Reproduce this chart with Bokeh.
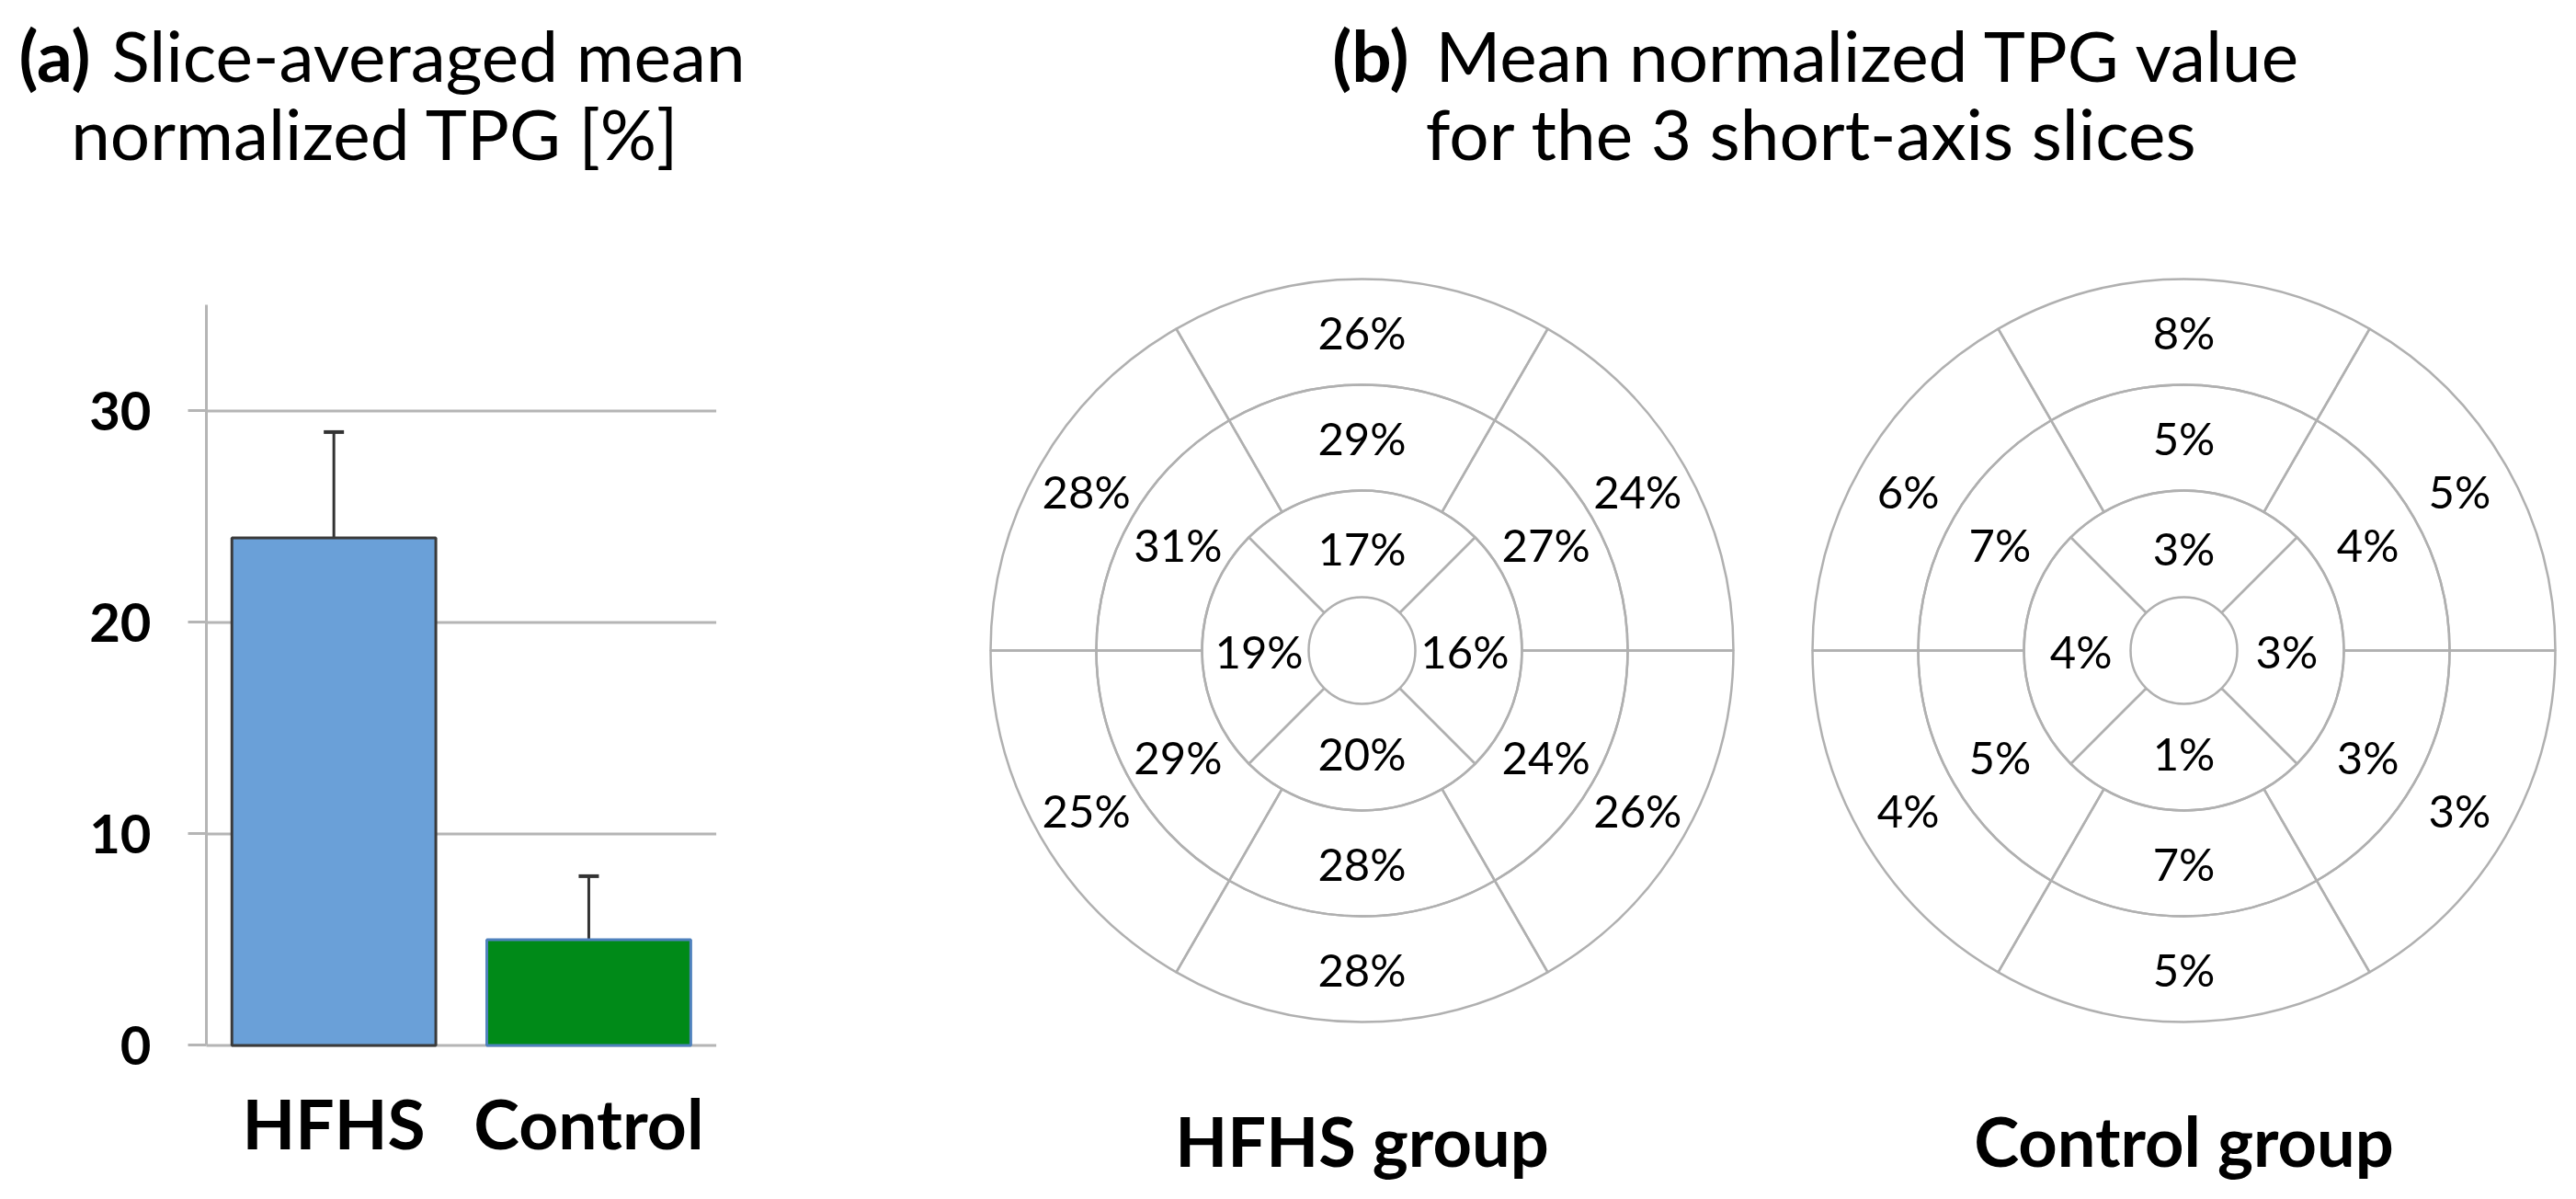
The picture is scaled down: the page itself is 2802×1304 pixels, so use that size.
import numpy as np
from bokeh.plotting import figure
from bokeh.models import ColumnDataSource, Range1d, Whisker, TeeHead, FixedTicker, LinearAxis
from bokeh.embed import file_html
from bokeh.resources import INLINE
from bokeh.core.properties import value

# ---------------- data ----------------
groups = ["HFHS", "Control"]
mean_tpg = [24, 5]
sd_tpg = [5, 3]
y_ticks = [0, 10, 20, 30]

# 6-segment rings order: top, upper-right, lower-right, bottom, lower-left, upper-left
hfhs_outer = [26, 24, 26, 28, 25, 28]
hfhs_middle = [29, 27, 24, 28, 29, 31]
# 4-segment ring order: top, right, bottom, left
hfhs_inner = [17, 16, 20, 19]

ctrl_outer = [8, 5, 3, 5, 4, 6]
ctrl_middle = [5, 4, 3, 7, 5, 7]
ctrl_inner = [3, 3, 1, 4]

group_names = ["HFHS group", "Control group"]

# ---------------- style ----------------
FONT = "Lato"
GRID = "#b5b5b5"
RING = "#b0b0b0"
bar_fill = ["#6aa0d8", "#008a18"]
bar_line = ["#3a3a3a", "#4f81bd"]

# ---------------- one figure, frame = whole canvas ----------------
# default ranges: bullseye units (outer radius = 1)
p = figure(width=2794, height=1296,
           x_range=Range1d(-3.6658, 3.2500), y_range=Range1d(-1.4579, 1.7500),
           x_axis_location=None, y_axis_location=None, min_border=0,
           output_backend="svg", toolbar_location=None)
p.outline_line_color = None
p.grid.visible = False

# extra ranges for the bar chart (panel a)
p.extra_x_ranges = {"bx": Range1d(-0.8078, 9.2679)}
p.extra_y_ranges = {"by": Range1d(-6.9391, 49.409)}

bar_pos = [i + 0.5 for i in range(len(groups))]
src = ColumnDataSource(dict(
    x=bar_pos, mean=mean_tpg,
    upper=[m + s for m, s in zip(mean_tpg, sd_tpg)],
    fill=bar_fill, line=bar_line))

# horizontal grid lines of the bar chart
p.segment(x0=[0] * len(y_ticks), x1=[len(groups)] * len(y_ticks), y0=y_ticks, y1=y_ticks,
          line_color=GRID, line_width=3, x_range_name="bx", y_range_name="by",
          level="underlay")

p.vbar(x="x", top="mean", width=0.8, source=src, fill_color="fill",
       line_color="line", line_width=3, x_range_name="bx", y_range_name="by")

wh = Whisker(base="x", upper="upper", lower="mean", source=src, dimension="height",
             line_color="#333333", line_width=3,
             upper_head=TeeHead(size=22, line_color="#333333", line_width=4),
             lower_head=None, x_range_name="bx", y_range_name="by")
p.add_layout(wh)

ya = LinearAxis(x_range_name="bx", y_range_name="by", fixed_location=0, bounds=(0, 35),
                ticker=FixedTicker(ticks=y_ticks))
ya.minor_tick_line_color = None
ya.major_tick_in = 0
ya.major_tick_out = 20
ya.major_tick_line_color = GRID
ya.major_tick_line_width = 3
ya.axis_line_color = GRID
ya.axis_line_width = 3
ya.major_label_text_font = FONT
ya.major_label_text_font_style = "bold"
ya.major_label_text_font_size = "58px"
ya.major_label_text_color = "black"
ya.major_label_standoff = 40
p.add_layout(ya, "left")

xa = LinearAxis(x_range_name="bx", y_range_name="by", fixed_location=0,
                ticker=FixedTicker(ticks=bar_pos),
                major_label_overrides={x: g for x, g in zip(bar_pos, groups)})
xa.axis_line_color = None
xa.major_tick_line_color = None
xa.minor_tick_line_color = None
xa.major_tick_in = 0
xa.major_tick_out = 0
xa.major_label_text_font = FONT
xa.major_label_text_font_style = "bold"
xa.major_label_text_font_size = "75px"
xa.major_label_text_color = "black"
xa.major_label_standoff = 39
p.add_layout(xa, "below")

# ---------------- bullseyes (panel b) ----------------
R = [0.1436, 0.4307, 0.7153, 1.0]
centers = [0.0, 2.2129]

six_start = np.deg2rad(np.arange(0, 360, 60))
four_start = np.deg2rad(np.arange(45, 405, 90))
six_mid = np.deg2rad([90, 30, -30, -90, -150, 150])
four_mid = np.deg2rad([90, 0, -90, 180])

datasets = [(hfhs_inner, hfhs_middle, hfhs_outer), (ctrl_inner, ctrl_middle, ctrl_outer)]
for cx, (inner, middle, outer) in zip(centers, datasets):
    p.annular_wedge(x=[cx] * 4, y=[0] * 4, inner_radius=R[0], outer_radius=R[1],
                    start_angle=four_start, end_angle=four_start + np.pi / 2,
                    fill_color=None, line_color=RING, line_width=2.5)
    for r0, r1 in [(R[1], R[2]), (R[2], R[3])]:
        p.annular_wedge(x=[cx] * 6, y=[0] * 6, inner_radius=r0, outer_radius=r1,
                        start_angle=six_start, end_angle=six_start + np.pi / 3,
                        fill_color=None, line_color=RING, line_width=2.5)
    for vals, mids, rr in [(inner, four_mid, 0.277), (middle, six_mid, 0.572),
                           (outer, six_mid, 0.857)]:
        p.text(x=cx + rr * np.cos(mids), y=rr * np.sin(mids), text=[f"{v}%" for v in vals],
               text_align="center", text_baseline="middle", text_font=value(FONT),
               text_font_size="49px", text_color="black")

# group names under the bullseyes
p.text(x=centers, y=[-1.3181] * len(centers), text=group_names, text_align="center",
       text_baseline="middle", text_font=value(FONT), text_font_style="bold",
       text_font_size="74px", text_color="black")

# ---------------- titles ----------------
def title_part(x, y, text, bold=False, align="left", size="76.5px"):
    p.text(x=[x], y=[y], text=[text], text_font=value(FONT),
           text_font_style="bold" if bold else "normal",
           text_font_size=size, text_align=align,
           text_baseline="middle", text_color="black")

L1, L2 = 1.6052, 1.3936
title_part(-3.4233, L1, "(a)", bold=True, align="right")
title_part(-3.3663, L1, "Slice-averaged mean")
title_part(-2.6559, L2, "normalized TPG [%]", align="center")

title_part(0.1262, L1, "(b)", bold=True, align="right")
title_part(0.1980, L1, "Mean normalized TPG value")
title_part(1.2104, L2, "for the 3 short-axis slices", align="center")

open("out.html", "w").write(file_html(p, INLINE))
